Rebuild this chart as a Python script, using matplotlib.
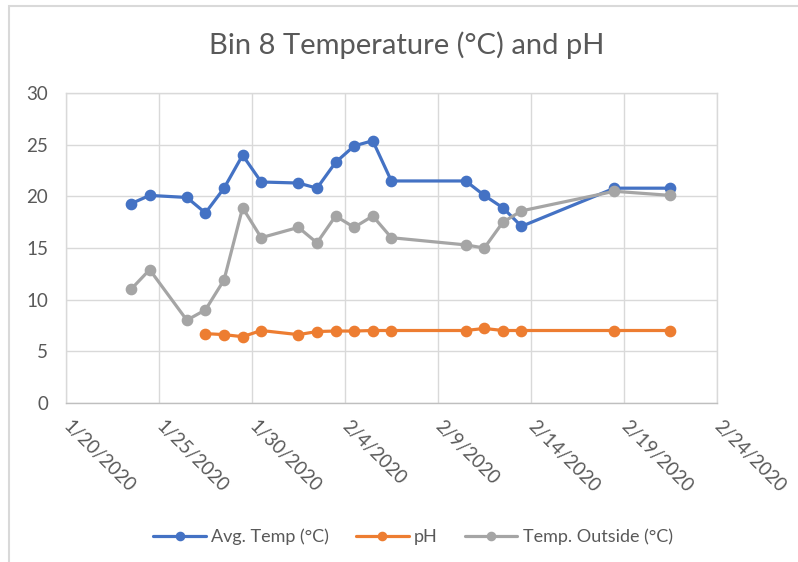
import matplotlib
matplotlib.use("Agg")
import matplotlib.pyplot as plt
import matplotlib.patches as mpatches
import pandas as pd

plt.rcParams['font.family'] = ['Lato', 'DejaVu Sans']

# Sampling dates for the bin temperature and outside temperature
temp_dates = ["2020-01-23", "2020-01-24", "2020-01-26", "2020-01-27", "2020-01-28",
              "2020-01-29", "2020-01-30", "2020-02-01", "2020-02-02", "2020-02-03",
              "2020-02-04", "2020-02-05", "2020-02-06", "2020-02-10", "2020-02-11",
              "2020-02-12", "2020-02-13", "2020-02-18", "2020-02-21"]
avg_temp = [19.3, 20.1, 19.9, 18.4, 20.8, 24.0, 21.4, 21.3, 20.8, 23.3,
            24.9, 25.4, 21.5, 21.5, 20.1, 18.9, 17.1, 20.8, 20.8]
temp_outside = [11.0, 12.9, 8.0, 9.0, 11.9, 18.9, 16.0, 17.0, 15.5, 18.1,
                17.0, 18.1, 16.0, 15.3, 15.0, 17.5, 18.6, 20.5, 20.1]

# pH readings started on 1/27
ph_dates = ["2020-01-27", "2020-01-28", "2020-01-29", "2020-01-30", "2020-02-01",
            "2020-02-02", "2020-02-03", "2020-02-04", "2020-02-05", "2020-02-06",
            "2020-02-10", "2020-02-11", "2020-02-12", "2020-02-13", "2020-02-18",
            "2020-02-21"]
ph = [6.7, 6.6, 6.4, 7.0, 6.6, 6.9, 6.95, 6.95, 7.0, 7.0,
      7.0, 7.2, 7.0, 7.0, 7.0, 7.0]

tick_dates = ["2020-01-20", "2020-01-25", "2020-01-30", "2020-02-04",
              "2020-02-09", "2020-02-14", "2020-02-19", "2020-02-24"]
tick_labels = ["1/20/2020", "1/25/2020", "1/30/2020", "2/4/2020",
               "2/9/2020", "2/14/2020", "2/19/2020", "2/24/2020"]

title = "Bin 8 Temperature (°C) and pH"
series_names = ["Avg. Temp (°C)", "pH", "Temp. Outside (°C)"]
colors = ["#4472C4", "#ED7D31", "#A5A5A5"]

W, H = 798, 562
fig = plt.figure(figsize=(W / 100, H / 100), dpi=100)
ax = fig.add_axes([66 / W, 1 - 402.7 / H, (716.7 - 66) / W, (402.7 - 93.3) / H])

# each day's point sits in the middle of its day slot
half_day = pd.Timedelta(hours=12)
t_temp = pd.to_datetime(temp_dates) + half_day
t_ph = pd.to_datetime(ph_dates) + half_day

style = dict(lw=2.3, marker='o', markersize=7.4, solid_capstyle='round')
ax.plot(t_temp, avg_temp, color=colors[0], label=series_names[0], zorder=3, **style)
ax.plot(t_ph, ph, color=colors[1], label=series_names[1], zorder=4, **style)
ax.plot(t_temp, temp_outside, color=colors[2], label=series_names[2], zorder=5, **style)

ticks = pd.to_datetime(tick_dates)
ax.set_xlim(ticks[0], ticks[-1])
ax.set_ylim(0, 30)
ax.set_yticks(range(0, 31, 5))
ax.set_xticks(ticks)
ax.set_xticklabels(tick_labels, rotation=-45, rotation_mode='anchor',
                   ha='left', va='center')

grid_c = "#D9D9D9"
ax.grid(True, color=grid_c, lw=1.0)
ax.set_axisbelow(True)
for s in ax.spines.values():
    s.set_color(grid_c)
    s.set_linewidth(1.0)
ax.spines['bottom'].set_color("#BFBFBF")

lab_c = "#595959"
ax.tick_params(axis='y', length=0, pad=13, labelsize=13.5, labelcolor=lab_c)
ax.tick_params(axis='x', length=0, pad=15, labelsize=13.5, labelcolor=lab_c)

fig.text(407 / W, 1 - 45 / H, title, ha='center', va='center',
         fontsize=21, color=lab_c)

fig.legend(loc='center', bbox_to_anchor=(413 / W, 1 - 537 / H), ncol=3,
           frameon=False, fontsize=13, labelcolor=lab_c, handlelength=2.9,
           handletextpad=0.3, columnspacing=1.5, markerscale=0.8)

# light chart-area border
fig.patches.append(mpatches.Rectangle((9 / W, -0.05), 1.1, 1.05 - 6 / H,
                                      transform=fig.transFigure, fill=False,
                                      edgecolor=grid_c, lw=1.5, clip_on=False))

fig.savefig("out.png", dpi=100)
